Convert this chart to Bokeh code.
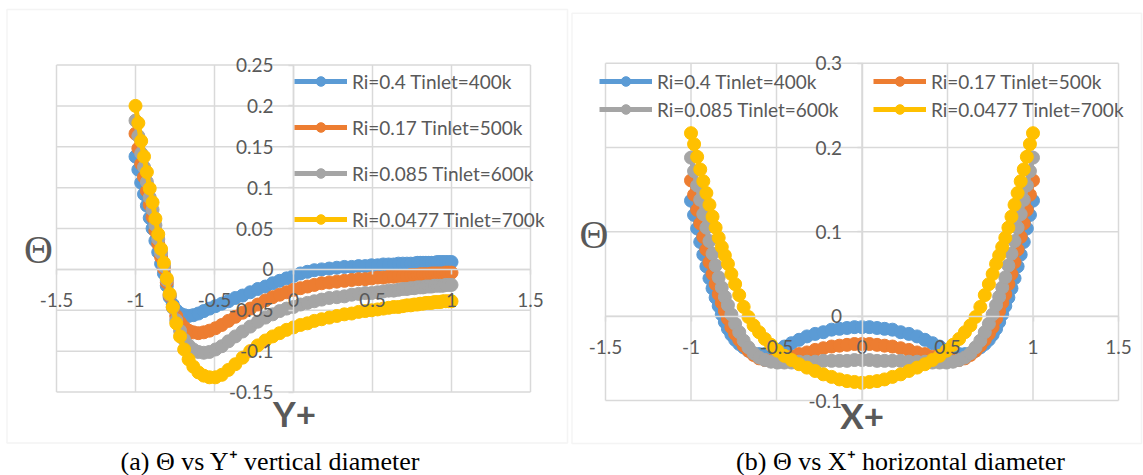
from bokeh.plotting import figure
from bokeh.models import Range1d, FixedTicker, Legend, LegendItem, Label, BoxAnnotation
from bokeh.layouts import row
from bokeh.embed import file_html
from bokeh.resources import INLINE

# Non-dimensional probe stations across the diameter (clustered near the walls)
stations = [
    -1.000, -0.982, -0.964, -0.946, -0.928, -0.910, -0.892, -0.874, -0.856, -0.838,
    -0.820, -0.802, -0.784, -0.764, -0.742, -0.718, -0.692, -0.664, -0.634, -0.602,
    -0.568, -0.532, -0.494, -0.454, -0.412, -0.368, -0.322, -0.274, -0.226, -0.178,
    -0.132, -0.088, -0.044, 0.000, 0.044, 0.088, 0.132, 0.178, 0.226, 0.274,
    0.322, 0.368, 0.412, 0.454, 0.494, 0.532, 0.568, 0.602, 0.634, 0.664,
    0.692, 0.718, 0.742, 0.764, 0.784, 0.802, 0.820, 0.838, 0.856, 0.874,
    0.892, 0.910, 0.928, 0.946, 0.964, 0.982, 1.000,
]

series_names = ["Ri=0.4 Tinlet=400k", "Ri=0.17 Tinlet=500k",
                "Ri=0.085 Tinlet=600k", "Ri=0.0477 Tinlet=700k"]
series_colors = ["#5B9BD5", "#ED7D31", "#A5A5A5", "#FFC000"]

# (a) theta along the vertical diameter
theta_vert_ri040 = [
    0.138, 0.122, 0.106, 0.092, 0.078, 0.063, 0.050, 0.035, 0.021, 0.007,
    -0.005, -0.020, -0.034, -0.043, -0.050, -0.054, -0.056, -0.057, -0.056, -0.054,
    -0.051, -0.048, -0.045, -0.042, -0.039, -0.035, -0.032, -0.028, -0.024, -0.021,
    -0.017, -0.014, -0.011, -0.008, -0.005, -0.003, -0.001, 0.000, 0.001, 0.002,
    0.003, 0.003, 0.004, 0.004, 0.005, 0.005, 0.006, 0.006, 0.006, 0.007,
    0.007, 0.007, 0.007, 0.007, 0.008, 0.008, 0.008, 0.008, 0.008, 0.008,
    0.008, 0.009, 0.009, 0.009, 0.009, 0.009, 0.009,
]
theta_vert_ri017 = [
    0.166, 0.148, 0.129, 0.113, 0.096, 0.079, 0.064, 0.047, 0.031, 0.015,
    0.001, -0.016, -0.032, -0.046, -0.057, -0.065, -0.071, -0.075, -0.077, -0.078,
    -0.077, -0.075, -0.072, -0.068, -0.063, -0.058, -0.053, -0.048, -0.043, -0.038,
    -0.034, -0.031, -0.028, -0.025, -0.023, -0.021, -0.019, -0.017, -0.016, -0.015,
    -0.014, -0.013, -0.012, -0.012, -0.011, -0.010, -0.010, -0.009, -0.009, -0.008,
    -0.008, -0.008, -0.007, -0.007, -0.007, -0.006, -0.006, -0.006, -0.006, -0.005,
    -0.005, -0.005, -0.005, -0.005, -0.004, -0.004, -0.004,
]
theta_vert_ri0085 = [
    0.182, 0.163, 0.142, 0.125, 0.107, 0.088, 0.073, 0.054, 0.037, 0.020,
    0.004, -0.013, -0.031, -0.047, -0.062, -0.075, -0.086, -0.093, -0.098, -0.101,
    -0.102, -0.101, -0.098, -0.094, -0.088, -0.082, -0.076, -0.070, -0.064, -0.059,
    -0.055, -0.051, -0.048, -0.046, -0.043, -0.041, -0.039, -0.037, -0.035, -0.034,
    -0.033, -0.031, -0.030, -0.029, -0.029, -0.028, -0.027, -0.026, -0.026, -0.025,
    -0.024, -0.024, -0.023, -0.023, -0.022, -0.022, -0.022, -0.021, -0.021, -0.021,
    -0.020, -0.020, -0.020, -0.020, -0.019, -0.019, -0.019,
]
theta_vert_ri00477 = [
    0.200, 0.179, 0.157, 0.138, 0.119, 0.099, 0.082, 0.062, 0.043, 0.025,
    0.008, -0.011, -0.030, -0.046, -0.066, -0.082, -0.098, -0.110, -0.119, -0.126,
    -0.130, -0.132, -0.132, -0.129, -0.123, -0.116, -0.108, -0.100, -0.093, -0.087,
    -0.082, -0.078, -0.074, -0.071, -0.068, -0.066, -0.063, -0.061, -0.059, -0.057,
    -0.055, -0.054, -0.052, -0.051, -0.050, -0.049, -0.048, -0.047, -0.046, -0.046,
    -0.045, -0.044, -0.044, -0.043, -0.043, -0.042, -0.042, -0.041, -0.041, -0.041,
    -0.040, -0.040, -0.040, -0.039, -0.039, -0.039, -0.039,
]

# (b) theta along the horizontal diameter
theta_horz_ri040 = [
    0.137, 0.120, 0.104, 0.088, 0.073, 0.059, 0.045, 0.033, 0.022, 0.012,
    0.002, -0.007, -0.015, -0.022, -0.028, -0.033, -0.037, -0.041, -0.044, -0.045,
    -0.045, -0.044, -0.040, -0.036, -0.032, -0.028, -0.024, -0.021, -0.019, -0.016,
    -0.015, -0.014, -0.013, -0.013, -0.013, -0.014, -0.015, -0.016, -0.019, -0.021,
    -0.024, -0.028, -0.032, -0.036, -0.040, -0.044, -0.045, -0.045, -0.044, -0.041,
    -0.037, -0.033, -0.028, -0.022, -0.015, -0.007, 0.002, 0.012, 0.022, 0.033,
    0.045, 0.059, 0.073, 0.088, 0.104, 0.120, 0.137,
]
theta_horz_ri017 = [
    0.161, 0.144, 0.126, 0.110, 0.094, 0.079, 0.064, 0.050, 0.038, 0.026,
    0.016, 0.006, -0.003, -0.013, -0.021, -0.028, -0.035, -0.041, -0.046, -0.050,
    -0.052, -0.053, -0.052, -0.050, -0.048, -0.045, -0.043, -0.040, -0.038, -0.036,
    -0.035, -0.034, -0.033, -0.033, -0.033, -0.034, -0.035, -0.036, -0.038, -0.040,
    -0.043, -0.045, -0.048, -0.050, -0.052, -0.053, -0.052, -0.050, -0.046, -0.041,
    -0.035, -0.028, -0.021, -0.013, -0.003, 0.006, 0.016, 0.026, 0.038, 0.050,
    0.064, 0.079, 0.094, 0.110, 0.126, 0.144, 0.161,
]
theta_horz_ri0085 = [
    0.188, 0.172, 0.155, 0.138, 0.121, 0.105, 0.089, 0.074, 0.060, 0.046,
    0.034, 0.023, 0.013, 0.002, -0.009, -0.019, -0.029, -0.037, -0.044, -0.049,
    -0.052, -0.054, -0.055, -0.055, -0.055, -0.054, -0.054, -0.054, -0.053, -0.053,
    -0.053, -0.053, -0.052, -0.052, -0.052, -0.053, -0.053, -0.053, -0.053, -0.054,
    -0.054, -0.054, -0.055, -0.055, -0.055, -0.054, -0.052, -0.049, -0.044, -0.037,
    -0.029, -0.019, -0.009, 0.002, 0.013, 0.023, 0.034, 0.046, 0.060, 0.074,
    0.089, 0.105, 0.121, 0.138, 0.155, 0.172, 0.188,
]
theta_horz_ri00477 = [
    0.217, 0.204, 0.189, 0.174, 0.160, 0.146, 0.132, 0.118, 0.105, 0.093,
    0.082, 0.072, 0.062, 0.050, 0.038, 0.025, 0.011, -0.001, -0.011, -0.019,
    -0.027, -0.034, -0.041, -0.047, -0.052, -0.057, -0.061, -0.065, -0.069, -0.072,
    -0.075, -0.077, -0.078, -0.079, -0.078, -0.077, -0.075, -0.072, -0.069, -0.065,
    -0.061, -0.057, -0.052, -0.047, -0.041, -0.034, -0.027, -0.019, -0.011, -0.001,
    0.011, 0.025, 0.038, 0.050, 0.062, 0.072, 0.082, 0.093, 0.105, 0.118,
    0.132, 0.146, 0.160, 0.174, 0.189, 0.204, 0.217,
]

x_ticks = [-1.5, -1, -0.5, 0, 0.5, 1, 1.5]
x_tick_labels = ["-1.5", "-1", "-0.5", "0", "0.5", "1", "1.5"]
vert_y_ticks = [-0.15, -0.1, -0.05, 0, 0.05, 0.1, 0.15, 0.2, 0.25]
vert_y_tick_labels = ["-0.15", "-0.1", "-0.05", "0", "0.05", "0.1", "0.15", "0.2", "0.25"]
horz_y_ticks = [-0.1, 0, 0.1, 0.2, 0.3]
horz_y_tick_labels = ["-0.1", "0", "0.1", "0.2", "0.3"]

GRID = "#d9d9d9"
INK = "#595959"
H = 475


def linmap(v0, v1, p0, p1):
    k = (p1 - p0) / (v1 - v0)
    return lambda p: v0 + (p - p0) / k


def make_panel(w, xt, xl, yt, yl, x_px, y_px, box, series, legend_cfg, texts):
    fx = linmap(xt[0], xt[-1], x_px[0], x_px[1])
    fy = linmap(yt[-1], yt[0], y_px[0], y_px[1])
    p = figure(width=w, height=H, x_range=Range1d(fx(0), fx(w)),
               y_range=Range1d(fy(H), fy(0)), output_backend="svg",
               toolbar_location=None, min_border=0)
    p.outline_line_color = None
    p.xgrid.visible = False
    p.ygrid.visible = False
    p.background_fill_color = "white"
    p.border_fill_color = "white"

    # chart area border
    p.add_layout(BoxAnnotation(left=fx(box[0]), right=fx(box[1]), top=fy(box[2]),
                               bottom=fy(box[3]), fill_color=None, line_color=GRID,
                               line_width=1.5, level="underlay"))

    nx, ny = len(xt), len(yt)
    p.segment(x0=xt, y0=[yt[0]] * nx, x1=xt, y1=[yt[-1]] * nx,
              line_color=GRID, line_width=1.5)
    p.segment(x0=[xt[0]] * ny, y0=yt, x1=[xt[-1]] * ny, y1=yt,
              line_color=GRID, line_width=1.5)

    for ax, ticks, labels in ((p.xaxis[0], xt, xl), (p.yaxis[0], yt, yl)):
        ax.fixed_location = 0
        ax.bounds = (ticks[0], ticks[-1])
        ax.ticker = FixedTicker(ticks=ticks)
        ax.major_label_overrides = dict(zip(ticks, labels))
        ax.axis_line_color = GRID
        ax.axis_line_width = 1.5
        ax.major_tick_line_color = GRID
        ax.major_tick_line_width = 1.5
        ax.major_tick_out = 5
        ax.major_tick_in = 0
        ax.minor_tick_line_color = None
        ax.major_label_text_font = "Lato"
        ax.major_label_text_font_size = "19px"
        ax.major_label_text_color = INK
    p.xaxis[0].major_label_standoff = 19
    p.yaxis[0].major_label_standoff = 15

    items = []
    for name, color, vals in zip(series_names, series_colors, series):
        ln = p.line(stations, vals, line_color=color, line_width=5)
        sc = p.scatter(stations, vals, size=13, marker="circle",
                       fill_color=color, line_color=color)
        items.append(LegendItem(label=name, renderers=[ln, sc]))

    leg = Legend(items=items, location=(legend_cfg["x"], H - legend_cfg["bottom"]),
                 orientation=legend_cfg["orientation"], glyph_width=53,
                 glyph_height=24, label_height=24, label_standoff=5,
                 label_width=legend_cfg["label_width"], spacing=legend_cfg["spacing"],
                 padding=0, margin=0, border_line_color=None,
                 background_fill_alpha=0, label_text_font="Lato",
                 label_text_font_size="19px", label_text_color=INK)
    if legend_cfg.get("ncols"):
        leg.ncols = legend_cfg["ncols"]
    p.add_layout(leg)

    for t in texts:
        p.add_layout(Label(x=fx(t["x"]), y=fy(t["y"]), text=t["text"],
                           text_align="center", text_baseline="middle",
                           text_font=t["font"], text_font_size=t["size"],
                           text_font_style=t.get("style", "normal"),
                           text_color=t["color"]))
    return p


left = make_panel(
    569, x_ticks, x_tick_labels, vert_y_ticks, vert_y_tick_labels,
    (56, 530), (64.5, 391.5), (6.5, 567, 9, 442.5),
    [theta_vert_ri040, theta_vert_ri017, theta_vert_ri0085, theta_vert_ri00477],
    dict(x=294, bottom=231, orientation="vertical", label_width=20, spacing=22),
    [
        dict(x=38, y=249, text="Θ", font="Liberation Serif", size="40px", color=INK),
        dict(x=294, y=412.5, text="Y+", font="Lato", size="35px", style="bold", color=INK),
        dict(x=270, y=461, text="(a) Θ vs Y⁺ vertical diameter",
             font="Liberation Serif", size="26px", color="black"),
    ],
)

right = make_panel(
    574, x_ticks, x_tick_labels, horz_y_ticks, horz_y_tick_labels,
    (36, 549), (62.7, 400), (2.5, 572, 12.7, 443),
    [theta_horz_ri040, theta_horz_ri017, theta_horz_ri0085, theta_horz_ri00477],
    dict(x=30, bottom=121, orientation="horizontal", label_width=212, spacing=4, ncols=2),
    [
        dict(x=24.5, y=234, text="Θ", font="Liberation Serif", size="40px", color=INK),
        dict(x=292.7, y=414, text="X+", font="Lato", size="35px", style="bold", color=INK),
        dict(x=331, y=461, text="(b) Θ vs X⁺ horizontal diameter",
             font="Liberation Serif", size="26px", color="black"),
    ],
)

page = row(left, right)
open("out.html", "w").write(file_html(page, INLINE))
